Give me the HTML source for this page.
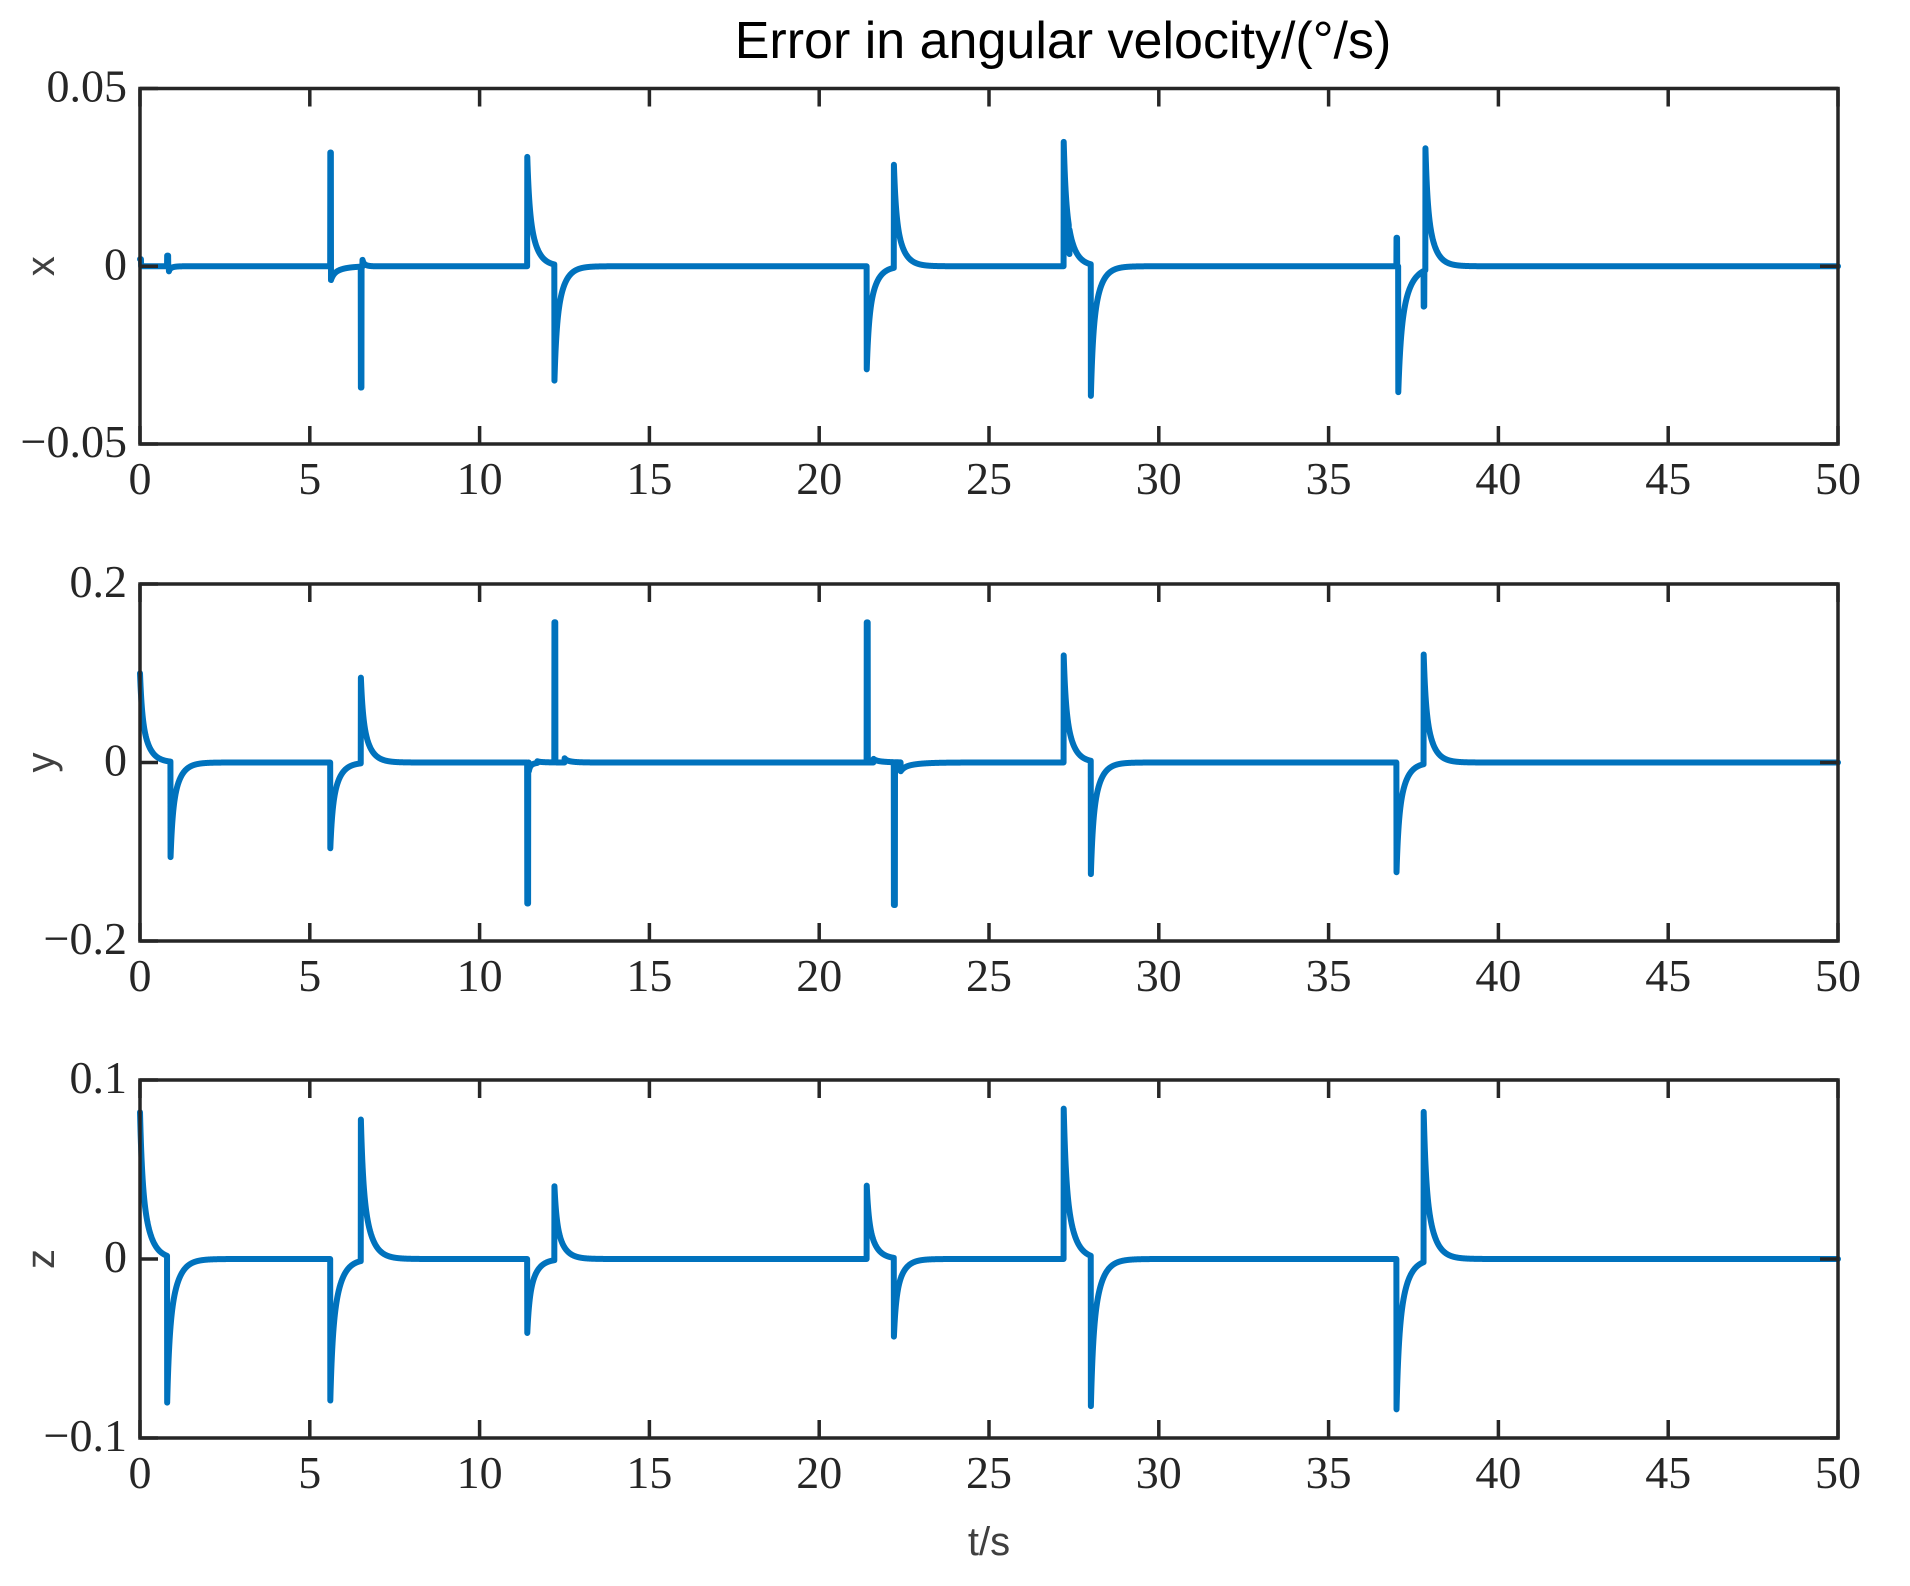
<!DOCTYPE html>
<html><head><meta charset="utf-8">
<style>
html,body{margin:0;padding:0;background:#fff;}
svg{display:block;}
.tk{font-family:"Liberation Serif",serif;font-size:46px;fill:#262626;}
.lb{font-family:"Liberation Sans",sans-serif;font-size:40px;fill:#404040;}
</style></head><body>
<svg id="s" width="1910" height="1586" xmlns="http://www.w3.org/2000/svg">
<text x="1063" y="58" text-anchor="middle" font-family="Liberation Sans,sans-serif" font-size="52" fill="#000">Error in angular velocity/(°/s)</text>
<text x="989" y="1555" text-anchor="middle" class="lb" font-size="48">t/s</text>
</svg>
<script>
var S=document.getElementById('s'),NS='http://www.w3.org/2000/svg';
var L=140,R=1838;
var axes=[
 {top:88.5,bot:444,ymax:0.05,lab:'x',yt:['0.05','0','\u22120.05'],
  sp:[[0,0.002,0.03,'i'],[0.8,0.003,0.03,'i'],[0.85,-0.0015,0.1],[5.6,0.032,0.02,'i'],[5.62,-0.004,0.3],[6.5,-0.034,0.02,'i'],[6.55,0.002,0.1],
      [11.4,0.032,0.22],[12.2,-0.034,0.22],[21.4,-0.029,0.22],[22.2,0.029,0.22],
      [27.2,0.035,0.22],[27.35,-0.007,0.02,'i'],[28.0,-0.037,0.22],[37.0,0.008,0.02,'i'],[37.05,-0.036,0.27],[37.8,-0.01,0.02,'i'],[37.85,0.035,0.22]]},
 {top:584,bot:941,ymax:0.2,lab:'y',yt:['0.2','0','\u22120.2'],
  sp:[[0,0.10,0.22],[0.9,-0.107,0.22],[5.6,-0.10,0.22],[6.5,0.10,0.22],
      [11.4,-0.158,0.03,'i'],[11.45,-0.01,0.1],[11.7,0.002,0.2],[12.2,0.157,0.03,'i'],[12.5,0.005,0.2],
      [21.4,0.157,0.03,'i'],[21.6,0.004,0.3],[22.2,-0.16,0.03,'i'],[22.4,-0.01,0.4],
      [27.2,0.12,0.22],[28.0,-0.127,0.22],[37.0,-0.123,0.22],[37.8,0.123,0.22]]},
 {top:1080,bot:1438,ymax:0.1,lab:'z',yt:['0.1','0','\u22120.1'],
  sp:[[0,0.082,0.24],[0.8,-0.082,0.24],[5.6,-0.082,0.24],[6.5,0.082,0.24],
      [11.4,-0.043,0.22],[12.2,0.043,0.22],[21.4,0.041,0.22],[22.2,-0.044,0.22],
      [27.2,0.084,0.24],[28.0,-0.084,0.24],[37.0,-0.084,0.24],[37.8,0.084,0.24]]}
];
function el(n,a,t){var e=document.createElementNS(NS,n);for(var k in a)e.setAttribute(k,a[k]);if(t)e.textContent=t;S.appendChild(e);return e;}
axes.forEach(function(A){
 var mid=(A.top+A.bot)/2, h=A.bot-A.top;
 var d='';
 for(var t=0;t<=50;t+=0.004){
  var v=0;
  A.sp.forEach(function(s){var dt=t-s[0];if(dt>=0){
    if(s[3]==='i'){ if(dt<=s[2]) v+=s[1]; }
    else v+=s[1]*(0.4*Math.exp(-dt/(s[2]*0.25))+0.6*Math.exp(-dt/s[2]));}});
  var x=L+t*(R-L)/50, y=mid-v/A.ymax*(h/2);
  d+=(d?'L':'M')+x.toFixed(2)+' '+y.toFixed(2);
 }
 el('path',{d:d,fill:'none',stroke:'#0072BD','stroke-width':6,'stroke-linejoin':'round','stroke-linecap':'round'});
 el('rect',{x:L,y:A.top,width:R-L,height:h,fill:'none',stroke:'#262626','stroke-width':3.5});
 for(var i=0;i<=10;i++){
  var x=L+i*(R-L)/10;
  el('line',{x1:x,y1:A.top,x2:x,y2:A.top+18,stroke:'#262626','stroke-width':3.5});
  el('line',{x1:x,y1:A.bot,x2:x,y2:A.bot-18,stroke:'#262626','stroke-width':3.5});
  el('text',{x:x,y:A.bot+50,'text-anchor':'middle','class':'tk'},String(i*5));
 }
 [A.top,mid,A.bot].forEach(function(y,j){
  el('line',{x1:L,y1:y,x2:L+18,y2:y,stroke:'#262626','stroke-width':3.5});
  el('line',{x1:R,y1:y,x2:R-18,y2:y,stroke:'#262626','stroke-width':3.5});
  el('text',{x:127,y:y+13,'text-anchor':'end','class':'tk'},A.yt[j]);
 });
 el('text',{x:54,y:mid,'text-anchor':'middle','class':'lb',transform:'rotate(-90 54 '+mid+')'},A.lab);
});
</script>
</body></html>
